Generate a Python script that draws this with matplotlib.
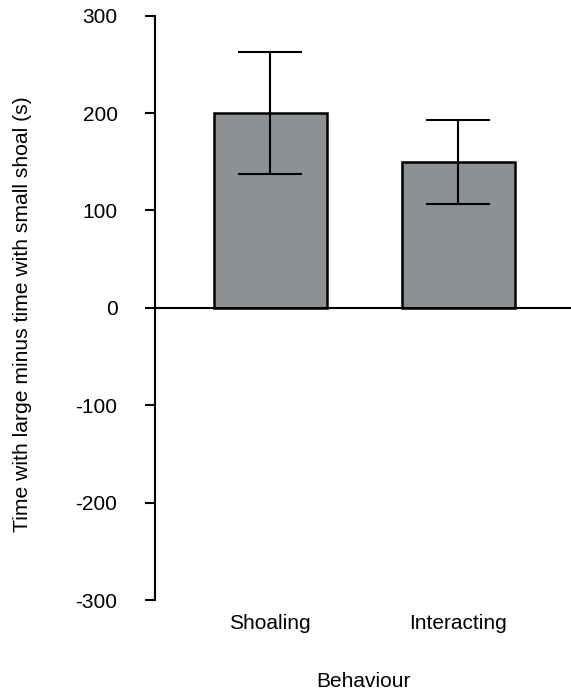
import matplotlib
matplotlib.use("Agg")
import matplotlib.pyplot as plt

categories = ["Shoaling", "Interacting"]
means = [200, 150]
err_upper = [263, 193]
err_lower = [137, 107]
yticks = [-300, -200, -100, 0, 100, 200, 300]

plt.rcParams['font.family'] = ['Liberation Sans', 'DejaVu Sans']

fig = plt.figure(figsize=(5.71, 6.94), dpi=100)
ax = fig.add_axes([155/571, (694-600)/694, (571-155)/571, (600-15.7)/694])

x = list(range(len(categories)))
yerr = [[m - lo for m, lo in zip(means, err_lower)], [hi - m for m, hi in zip(means, err_upper)]]
ax.bar(x, means, width=0.6, color="#8e9193", edgecolor="black", linewidth=1.8, zorder=2)
ax.errorbar(x, means, yerr=yerr, fmt="none", ecolor="black", elinewidth=1.5,
            capsize=23, capthick=1.5, zorder=3)
ax.axhline(0, color="black", linewidth=1.5, zorder=4)

ax.set_xlim(-0.612, 1.598)
ax.set_ylim(-300, 300)
ax.set_yticks(yticks)
ax.set_yticklabels([str(v) for v in yticks])
ax.set_xticks(x)
ax.set_xticklabels(categories)

for s in ["top", "right", "bottom"]:
    ax.spines[s].set_visible(False)
ax.spines["left"].set_linewidth(1.5)
ax.spines["left"].set_bounds(-300, 300)

ax.tick_params(axis="y", length=7, width=1.5, pad=20, labelsize=15)
ax.tick_params(axis="x", length=0, pad=10, labelsize=15)

ax.set_ylabel("Time with large minus time with small shoal (s)", fontsize=15.2)
ax.yaxis.set_label_coords(-0.296, 0.49)
ax.set_xlabel("Behaviour", fontsize=15, labelpad=28)

fig.savefig("out.png", dpi=100)
